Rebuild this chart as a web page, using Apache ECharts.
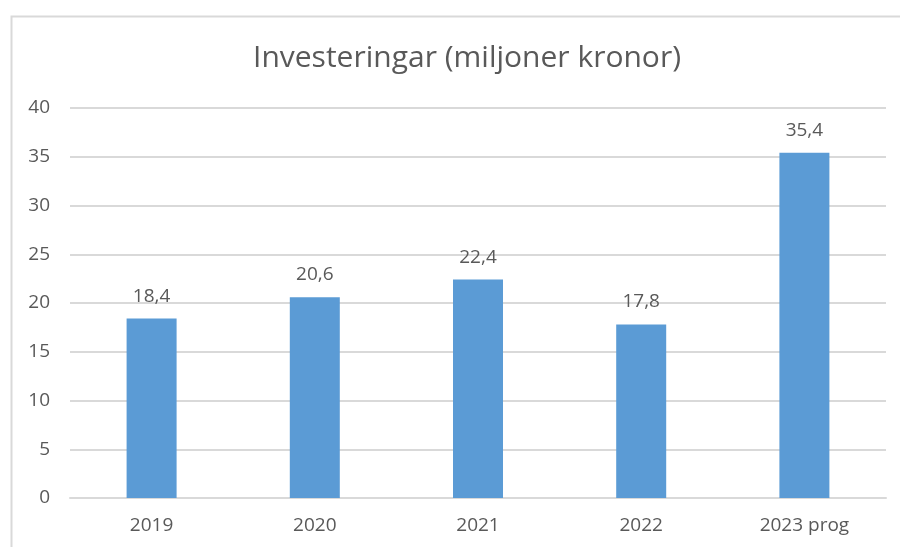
<!DOCTYPE html>
<html>
<head>
<meta charset="utf-8">
<script src="https://cdn.jsdelivr.net/npm/echarts@6/dist/echarts.min.js"></script>
<style>
	html, body { margin: 0; padding: 0; background: #fff; }
	#chart { width: 900px; height: 547px; }
</style>
</head>
<body>
<div id="chart"></div>
<script>
	// Investeringar per år
	const years = ["2019", "2020", "2021", "2022", "2023 prog"];
	const values = [18.4, 20.6, 22.4, 17.8, 35.4];
	const yTicks = [0, 5, 10, 15, 20, 25, 30, 35, 40];

	const textColor = "#595959";
	const font = "'Open Sans', 'Liberation Sans', sans-serif";

	let chart = echarts.init(document.getElementById("chart"), null, { renderer: "canvas" });
	chart.setOption({
		animation: false,
		textStyle: { fontFamily: font },
		graphic: [{
			type: "rect",
			left: 9,
			top: 14,
			shape: { width: 1000, height: 1000 },
			style: { fill: "none", stroke: "#d9d9d9", lineWidth: 2 },
			silent: true
		}],
		title: {
			text: "Investeringar (miljoner kronor)",
			left: 462,
			top: 38,
			textAlign: "center",
			textStyle: { color: textColor, fontSize: 30, fontWeight: "normal", fontFamily: font }
		},
		grid: {
			left: 70,
			right: 14,
			top: 108,
			bottom: 49
		},
		xAxis: {
			type: "category",
			data: years,
			axisLine: { lineStyle: { color: "#d9d9d9", width: 2 } },
			axisTick: { show: false },
			axisLabel: { color: textColor, fontSize: 19, margin: 18, fontFamily: font }
		},
		yAxis: {
			type: "value",
			min: yTicks[0],
			max: yTicks[yTicks.length - 1],
			interval: 5,
			axisLine: { show: false },
			axisTick: { show: false },
			splitLine: { lineStyle: { color: "#d9d9d9", width: 2 } },
			axisLabel: { color: textColor, fontSize: 19, margin: 20, fontFamily: font }
		},
		series: [{
			type: "bar",
			data: values,
			barWidth: 50,
			itemStyle: { color: "#5b9bd5" },
			label: {
				show: true,
				position: "top",
				distance: 13,
				color: textColor,
				fontSize: 19,
				fontFamily: font,
				formatter: p => String(p.value).replace(".", ",")
			}
		}]
	});
</script>
</body>
</html>
